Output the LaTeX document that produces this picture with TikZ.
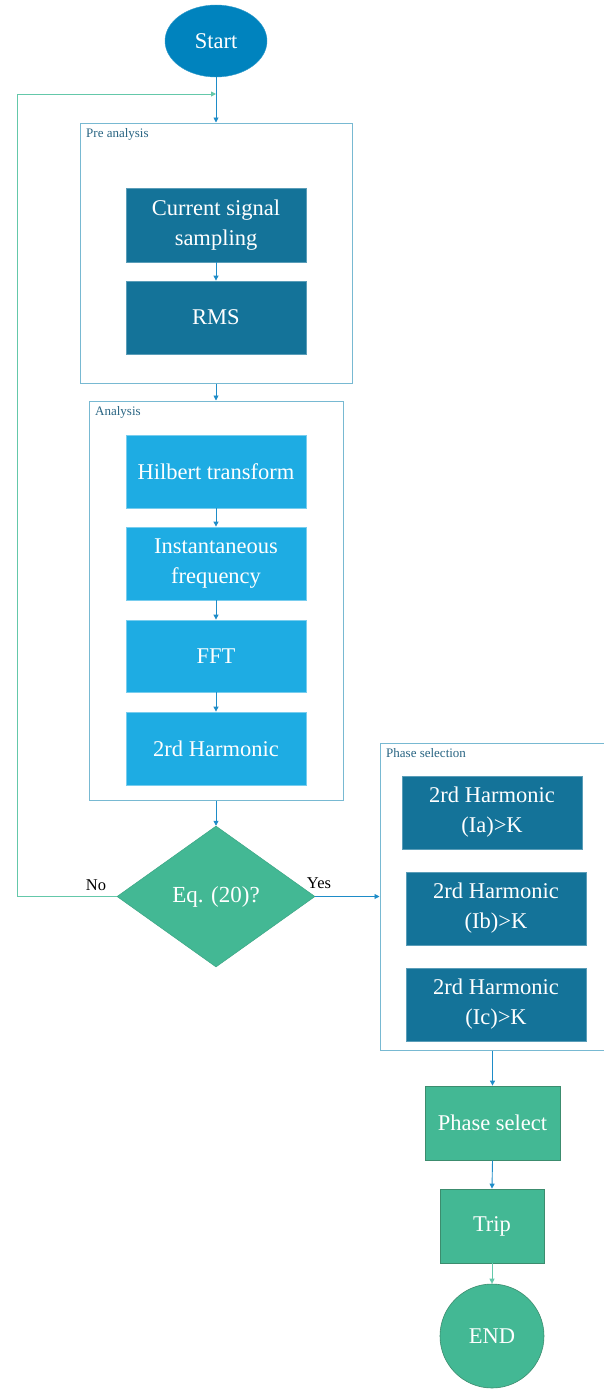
\documentclass[tikz,border=0pt]{standalone}
\usepackage{fontspec}
\setmainfont{Liberation Serif}
\usetikzlibrary{shapes.geometric,arrows.meta}
\definecolor{startblue}{RGB}{0,131,190}
\definecolor{darkteal}{RGB}{20,115,153}
\definecolor{lightblue}{RGB}{30,172,227}
\definecolor{flowgreen}{RGB}{67,184,148}
\definecolor{greenedge}{RGB}{60,140,110}
\definecolor{frameedge}{RGB}{120,185,210}
\definecolor{labeltext}{RGB}{40,100,130}
\definecolor{arrowblue}{RGB}{30,140,200}
\definecolor{loopgreen}{RGB}{100,200,170}
\tikzset{
  boxtext/.style={text=white,align=center,font=\fontsize{22.5}{30}\selectfont,inner sep=0pt},
  darkbox/.style={boxtext,rectangle,fill=darkteal,draw=darkteal!70!white,line width=0.8pt,minimum width=180pt,minimum height=73pt},
  lightbox/.style={boxtext,rectangle,fill=lightblue,draw=lightblue!60!white,line width=0.8pt,minimum width=180pt,minimum height=73pt},
  greenbox/.style={boxtext,rectangle,fill=flowgreen,draw=greenedge,line width=0.8pt,minimum height=74pt},
  frame/.style={rectangle,draw=frameedge,line width=1pt,inner sep=0pt},
  framelabel/.style={text=labeltext,font=\fontsize{13}{15}\selectfont,anchor=north west,inner sep=0pt},
  flowarrow/.style={draw=arrowblue,line width=0.9pt,-{Triangle[length=5pt,width=5pt]}},
  looparrow/.style={draw=loopgreen,line width=0.9pt,-{Triangle[length=5pt,width=5pt]}},
  answer/.style={font=\fontsize{16.5}{18}\selectfont,inner sep=0pt}
}
\begin{document}
\begin{tikzpicture}[x=1pt,y=-1pt]
\useasboundingbox (0,0) rectangle (603,1390);
% start
\node[ellipse,fill=startblue,draw=startblue!80!white,minimum width=102pt,minimum height=72pt,inner sep=0pt,text=white,font=\fontsize{22.5}{26}\selectfont] (start) at (216,41) {Start};
% pre analysis frame
\node[frame,minimum width=272pt,minimum height=260pt] (pre) at (216,253) {};
\node[framelabel] (prelabel) at (86,128) {Pre analysis};
\node[darkbox,minimum height=74pt] (sampling) at (216,225) {Current signal\\sampling};
\node[darkbox] (rms) at (216,317.5) {RMS};
% analysis frame
\node[frame,minimum width=254pt,minimum height=399pt] (ana) at (216,600.5) {};
\node[framelabel] (analabel) at (95,406) {Analysis};
\node[lightbox] (hilbert) at (216,471.5) {Hilbert transform};
\node[lightbox] (inst) at (216,563.5) {Instantaneous\\frequency};
\node[lightbox,minimum height=72pt] (fft) at (216,656) {FFT};
\node[lightbox] (harm) at (216,748.5) {2rd Harmonic};
% decision
\node[diamond,fill=flowgreen,draw=flowgreen!90!black,line width=0.5pt,minimum width=198pt,minimum height=141pt,inner sep=0pt,text=white,font=\fontsize{23}{26}\selectfont] (eq) at (216,896.5) {Eq. (20)?};
\node[answer,anchor=base] (no) at (96,890) {No};
\node[answer,anchor=base] (yes) at (319,888) {Yes};
% phase selection frame
\node[frame,minimum width=226pt,minimum height=307pt] (phs) at (493,896.5) {};
\node[framelabel] (phslabel) at (386,748) {Phase selection};
\node[darkbox] (ia) at (492,812.5) {2rd Harmonic\\(Ia)>K};
\node[darkbox] (ib) at (496,908.5) {2rd Harmonic\\(Ib)>K};
\node[darkbox] (ic) at (496,1004.5) {2rd Harmonic\\(Ic)>K};
% end chain
\node[greenbox,minimum width=135pt] (psel) at (492.5,1123) {Phase select};
\node[greenbox,minimum width=104pt] (trip) at (492,1226) {Trip};
\node[circle,fill=flowgreen,draw=greenedge,line width=0.6pt,minimum size=104pt,inner sep=0pt,text=white,font=\fontsize{22.5}{26}\selectfont] (endn) at (492,1336) {END};
% connectors
\coordinate (loopin) at (216,94);
\draw[flowarrow] (start.south) -- (pre.north);
\draw[flowarrow] (sampling.south) -- (rms.north);
\draw[flowarrow] (pre.south) -- (ana.north);
\draw[flowarrow] (hilbert.south) -- (inst.north);
\draw[flowarrow] (inst.south) -- (fft.north);
\draw[flowarrow] (fft.south) -- (harm.north);
\draw[flowarrow] (ana.south) -- (eq.north);
\draw[flowarrow] (eq.east) -- (eq.east -| phs.west);
\draw[looparrow] (eq.west) -- (17,896.5) -- (17,94) -- (loopin);
\draw[flowarrow] (phs.south -| psel.north) -- (psel.north);
\draw[flowarrow] (psel.south) -- (trip.north);
\draw[looparrow] (trip.south) -- (endn.north);
\end{tikzpicture}
\end{document}
